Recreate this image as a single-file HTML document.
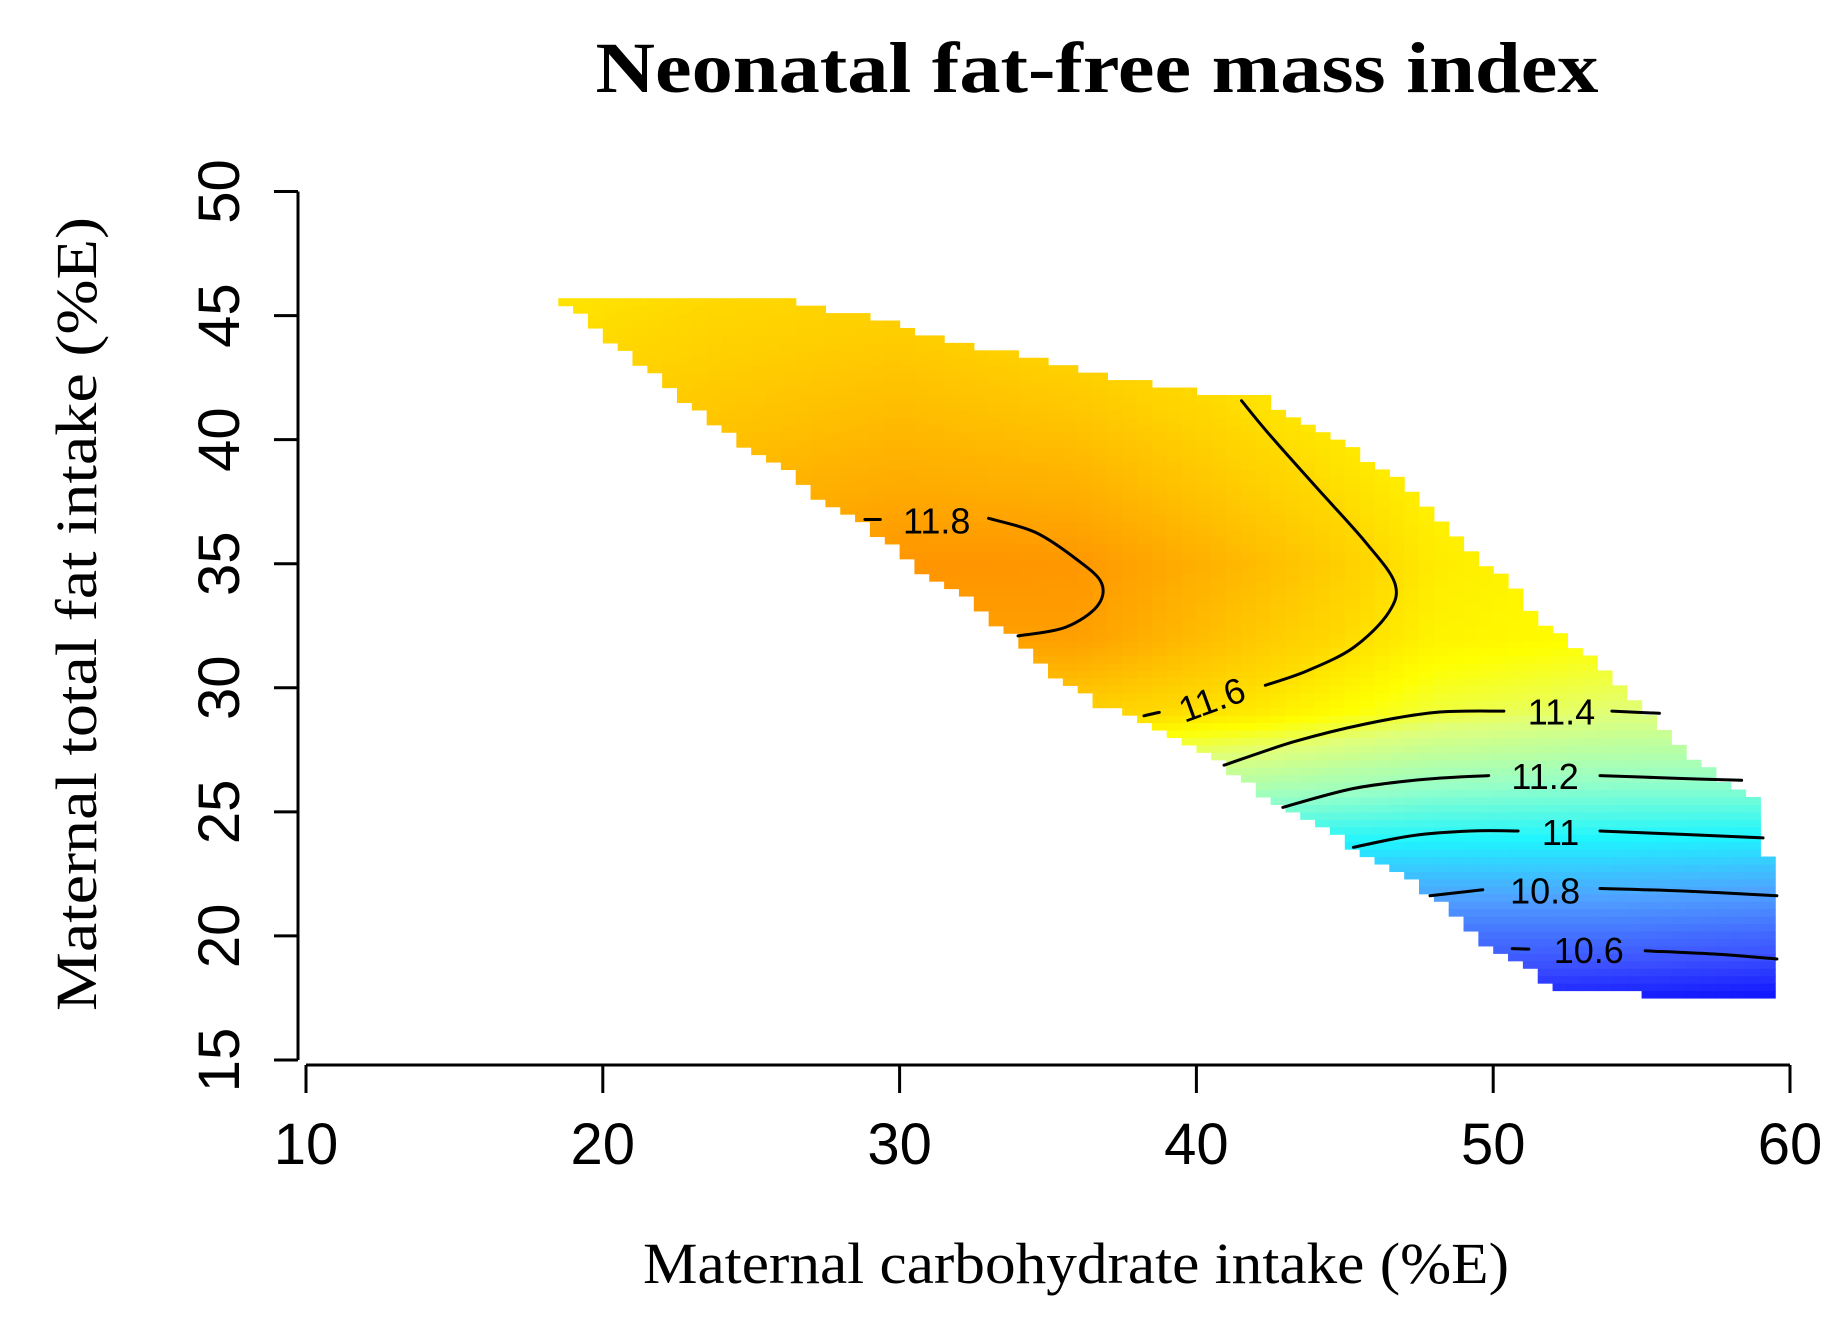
<!DOCTYPE html>
<html><head><meta charset="utf-8">
<style>
html,body{margin:0;padding:0;background:#fff;}
svg{display:block;}
.tk{font-family:"Liberation Sans",sans-serif;font-size:58px;fill:#000;}
.ct{font-family:"Liberation Sans",sans-serif;font-size:36px;fill:#000;}
</style></head>
<body>
<svg id="chart" width="1844" height="1321" viewBox="0 0 1844 1321" xmlns="http://www.w3.org/2000/svg">
<text x="1097" y="92" text-anchor="middle" font-family="Liberation Serif,serif" font-weight="bold" font-size="72" textLength="1003" lengthAdjust="spacingAndGlyphs">Neonatal fat-free mass index</text>
<text x="1076" y="1283" text-anchor="middle" font-family="Liberation Serif,serif" font-size="58" textLength="866" lengthAdjust="spacingAndGlyphs">Maternal carbohydrate intake (%E)</text>
<text transform="translate(96,614) rotate(-90)" text-anchor="middle" font-family="Liberation Serif,serif" font-size="58" textLength="794" lengthAdjust="spacingAndGlyphs">Maternal total fat intake (%E)</text>
<g id="heat"></g>
<g id="contours"></g>
<g id="axes"></g>
</svg>
<script>
// ---- data ----
const gridX = [18,24,30,36,42,48,54,60];
const gridY = [17,20,23,26,29,32,35,38,41,44,47];
const gridValues = [
 [10.5,10.5,10.5,10.5,10.5,10.5,10.47,10.45],
 [10.68,10.68,10.68,10.68,10.68,10.68,10.68,10.65],
 [10.92,10.92,10.92,10.92,10.92,10.92,10.92,10.9],
 [11.2,11.22,11.26,11.3,11.26,11.2,11.18,11.18],
 [11.6,11.62,11.65,11.62,11.55,11.45,11.4,11.38],
 [11.7,11.75,11.8,11.8,11.65,11.53,11.5,11.45],
 [11.72,11.78,11.84,11.83,11.7,11.55,11.5,11.45],
 [11.68,11.72,11.76,11.74,11.63,11.53,11.5,11.45],
 [11.62,11.66,11.7,11.66,11.58,11.5,11.48,11.45],
 [11.58,11.62,11.64,11.6,11.55,11.5,11.47,11.45],
 [11.55,11.58,11.6,11.56,11.53,11.5,11.47,11.45]
];
const regionX = [18.3,26.3,28.3,29.8,30.8,32.3,33.8,35.4,36.8,37.9,39.3,40.9,42.3,43.3,44.5,45.5,46.9,47.9,48.9,49.9,50.8,51.4,52.4,53.8,54.8,55.8,56.8,57.8,58.8,59.3,59.7,59.7,55.3,52.2,51.2,50.2,49.3,47.9,46.9,45.3,44.3,43.3,42.3,40.9,39.3,37.8,36.8,35.4,33.8,32.6,31,29.8,28.8,27.8,26.9,25.9,24.7,23.5,22.3,21.3,20.3,19.1];
const regionY = [45.6,45.6,45.1,44.8,44.2,43.8,43.5,43,42.6,42.4,42.1,41.8,41.7,40.9,40.1,39.4,38.3,37.1,35.9,34.9,34,33,31.9,30.7,29.3,28.3,27.1,26.2,25.6,22.9,22.9,17.6,17.6,17.9,18.6,19.3,20,21.7,22.6,23.6,24.3,25,25.7,26.9,28.1,28.8,29.3,30.2,32.1,33.3,34.5,35.6,36.6,37.2,38,39,39.7,40.9,42,43,43.9,45.1];
const contourLevels = ["11.8","11.6","11.4","11.2","11","10.8","10.6"];
const contourSegA = [
 [[28.83,36.78],[29.35,36.78]],
 [[41.52,41.57],[42.5,40.15],[44.1,38.0],[45.69,35.88],[46.68,34.23],[46.48,33.04],[45.29,31.62],[43.7,30.67],[42.32,30.1]],
 [[40.93,26.88],[43.3,27.83],[45.69,28.54],[48.07,29.01],[50.36,29.06]],
 [[42.91,25.18],[45.29,25.94],[47.67,26.31],[49.85,26.46]],
 [[45.29,23.57],[47.27,24.04],[49.25,24.23],[50.84,24.23]],
 [[47.87,21.62],[49.65,21.86]],
 [[50.64,19.49],[51.2,19.47]]
];
const contourSegB = [
 [[33.0,36.83],[34.58,36.26],[35.97,35.17],[36.8,34.23],[36.65,33.28],[35.57,32.43],[33.99,32.09]],
 [[38.75,29.01],[38.23,28.87]],
 [[54.0,29.06],[55.6,28.97]],
 [[53.6,26.46],[55.99,26.36],[58.37,26.27]],
 [[53.6,24.23],[56.39,24.09],[59.09,23.95]],
 [[53.6,21.91],[56.39,21.81],[59.56,21.62]],
 [[55.12,19.4],[57.58,19.26],[59.56,19.07]]
];
const labelPos = [[31.25,36.7],[40.53,29.5],[52.3,29.0],[51.75,26.4],[52.27,24.15],[51.75,21.8],[53.22,19.4]];
const labelAngle = [0,-20,0,0,0,0,0];
const xTicks = [10,20,30,40,50,60];
const yTicks = [15,20,25,30,35,40,45,50];

// ---- scales ----
const X0=306, X1=1790, Y0=1060, Y1=191.5;
const sx = v => X0 + (v-10)*(X1-X0)/50;
const sy = v => Y0 - (v-15)*(Y0-Y1)/35;
const NS='http://www.w3.org/2000/svg';
function mk(tag, attrs, parent){const e=document.createElementNS(NS,tag);for(const k in attrs)e.setAttribute(k,attrs[k]);parent.appendChild(e);return e;}

const stops=[[10.45,[0,0,255]],[10.6,[60,80,255]],[10.8,[80,160,255]],[11.0,[30,245,255]],[11.2,[150,255,200]],[11.4,[225,255,120]],[11.5,[255,255,0]],[11.6,[255,215,0]],[11.85,[255,145,0]]];
function color(v){
 if(v<=stops[0][0])return 'rgb(0,0,255)';
 for(let i=1;i<stops.length;i++){if(v<=stops[i][0]){const t=(v-stops[i-1][0])/(stops[i][0]-stops[i-1][0]);const a=stops[i-1][1],b=stops[i][1];return 'rgb('+a.map((c,j)=>Math.round(c+(b[j]-c)*t)).join(',')+')';}}
 return 'rgb(255,145,0)';
}
function valueAt(x,y){
 let i=0;while(i<gridX.length-2&&x>gridX[i+1])i++;
 let j=0;while(j<gridY.length-2&&y>gridY[j+1])j++;
 const tx=Math.min(1,Math.max(0,(x-gridX[i])/(gridX[i+1]-gridX[i])));
 const ty=Math.min(1,Math.max(0,(y-gridY[j])/(gridY[j+1]-gridY[j])));
 const a=gridValues[j][i],b=gridValues[j][i+1],c=gridValues[j+1][i],d=gridValues[j+1][i+1];
 return a*(1-tx)*(1-ty)+b*tx*(1-ty)+c*(1-tx)*ty+d*tx*ty;
}
function inside(x,y){let c=false;for(let i=0,j=regionX.length-1;i<regionX.length;j=i++){const xi=regionX[i],yi=regionY[i],xj=regionX[j],yj=regionY[j];if(((yi>y)!==(yj>y))&&(x<(xj-xi)*(y-yi)/(yj-yi)+xi))c=!c;}return c;}

const heat=document.getElementById('heat');
const dx=0.5, dy=0.3;
for(let x=18;x<60;x+=dx){for(let y=17.5;y<46;y+=dy){
 const cx=x+dx/2, cy=y+dy/2;
 if(!inside(cx,cy))continue;
 const r=mk('rect',{x:sx(x).toFixed(2),y:sy(y+dy).toFixed(2),width:(sx(x+dx)-sx(x)+0.6).toFixed(2),height:(sy(y)-sy(y+dy)+0.6).toFixed(2),fill:color(valueAt(cx,cy))},heat);
 
 
}}

const cg=document.getElementById('contours');
function pathOf(pts){
 const P=pts.map(p=>[sx(p[0]),sy(p[1])]);
 let d='M'+P[0][0].toFixed(1)+','+P[0][1].toFixed(1);
 for(let i=0;i<P.length-1;i++){
  const p0=P[Math.max(0,i-1)],p1=P[i],p2=P[i+1],p3=P[Math.min(P.length-1,i+2)];
  const c1=[p1[0]+(p2[0]-p0[0])/6,p1[1]+(p2[1]-p0[1])/6];
  const c2=[p2[0]-(p3[0]-p1[0])/6,p2[1]-(p3[1]-p1[1])/6];
  d+=' C'+c1.map(v=>v.toFixed(1)).join(',')+' '+c2.map(v=>v.toFixed(1)).join(',')+' '+p2.map(v=>v.toFixed(1)).join(',');
 }
 return d;
}
contourLevels.forEach((lv,k)=>{
 [contourSegA[k],contourSegB[k]].forEach(seg=>{
  const p=mk('path',{d:pathOf(seg),fill:'none',stroke:'#000','stroke-width':3,'stroke-linecap':'round','stroke-linejoin':'round'},cg);
  
  
 });
 const lx=sx(labelPos[k][0]), ly=sy(labelPos[k][1]);
 const t=mk('text',{x:lx,y:ly+12,'text-anchor':'middle',class:'ct',transform:'rotate('+labelAngle[k]+' '+lx+' '+ly+')'},cg);
 t.textContent=lv;
 
 
});

const ax=document.getElementById('axes');
const ya=mk('line',{x1:298,y1:sy(50),x2:298,y2:sy(15),stroke:'#000','stroke-width':3},ax);


const xa=mk('line',{x1:sx(10),y1:1065,x2:sx(60),y2:1065,stroke:'#000','stroke-width':3},ax);


xTicks.forEach(v=>{
 const l=mk('line',{x1:sx(v),y1:1065,x2:sx(v),y2:1093,stroke:'#000','stroke-width':3},ax);
 
 
 const t=mk('text',{x:sx(v),y:1164,'text-anchor':'middle',class:'tk'},ax);
 t.textContent=v;
 
 
});
yTicks.forEach(v=>{
 const l=mk('line',{x1:274,y1:sy(v),x2:298,y2:sy(v),stroke:'#000','stroke-width':3},ax);
 
 
 const t=mk('text',{x:0,y:0,'text-anchor':'middle',class:'tk',transform:'translate(239,'+sy(v)+') rotate(-90)'},ax);
 t.textContent=v;
 
 
});
</script>
</body></html>
